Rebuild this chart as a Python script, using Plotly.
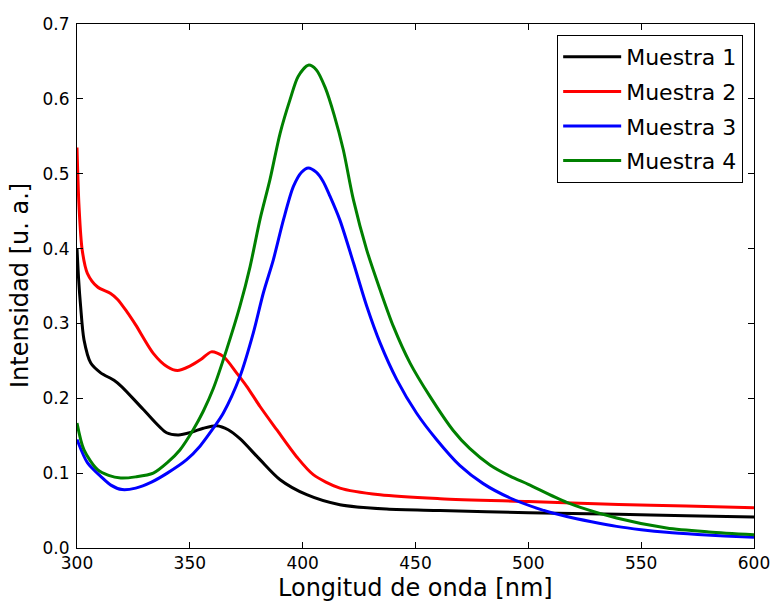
import plotly.graph_objects as go

# Muestra 1 (black)
x1 = [300, 300.7, 301.6, 303.1, 306.1, 310.5, 316.4, 320, 329.4, 339.7, 345, 351, 356, 361.9, 367, 372.2, 381.1, 390, 401.8, 416.5, 437.2, 460.9, 500, 540, 570, 600]
y1 = [0.40, 0.36, 0.323, 0.278, 0.247, 0.234, 0.224, 0.215, 0.185, 0.154, 0.151, 0.155, 0.160, 0.1634, 0.158, 0.146, 0.118, 0.0912, 0.0712, 0.0578, 0.052, 0.050, 0.047, 0.045, 0.043, 0.0414]

# Muestra 2 (red)
x2 = [300, 300.9, 302.3, 304.6, 309, 314.9, 318, 322, 326, 333.8, 340, 344.5, 350, 355, 359.5, 364.8, 370.7, 375.2, 381.1, 388.5, 397.3, 404.7, 416.5, 434.3, 460.9, 500, 540, 570, 600]
y2 = [0.535, 0.456, 0.398, 0.367, 0.349, 0.340, 0.332, 0.316, 0.298, 0.260, 0.242, 0.237, 0.243, 0.252, 0.262, 0.256, 0.234, 0.216, 0.189, 0.158, 0.122, 0.098, 0.080, 0.071, 0.0659, 0.062, 0.058, 0.056, 0.0538]

# Muestra 3 (blue)
x3 = [300, 304.6, 310.5, 315, 320, 326, 333, 340, 348.6, 354.5, 360.4, 364.8, 372.2, 378.1, 382.6, 387, 391.5, 395.9, 399.5, 402.5, 406, 409, 412.1, 416.5, 422.5, 428.4, 434.3, 441.7, 450.5, 459.3, 469.7, 480, 491.9, 505, 517, 528, 539.1, 550, 561.3, 575, 587, 600]
y3 = [0.145, 0.114, 0.0957, 0.084, 0.078, 0.080, 0.088, 0.100, 0.118, 0.136, 0.160, 0.180, 0.229, 0.287, 0.341, 0.385, 0.4386, 0.483, 0.502, 0.5076, 0.502, 0.490, 0.470, 0.438, 0.381, 0.323, 0.274, 0.225, 0.180, 0.145, 0.110, 0.086, 0.0668, 0.052, 0.042, 0.035, 0.0289, 0.0245, 0.0209, 0.018, 0.016, 0.0142]

# Muestra 4 (green)
x4 = [300, 303.1, 309, 314, 319.4, 326, 333.8, 340, 345.6, 351.5, 356, 360.4, 366.3, 372.2, 376.7, 381.1, 385.5, 390, 394.4, 398, 402.5, 406, 410, 414, 418, 422.5, 428.4, 434.3, 440.2, 447.6, 456.4, 466.7, 474, 483, 491.9, 500, 517, 539.1, 561.3, 580, 600]
y4 = [0.167, 0.131, 0.105, 0.097, 0.0935, 0.095, 0.100, 0.114, 0.131, 0.158, 0.183, 0.213, 0.265, 0.323, 0.376, 0.439, 0.492, 0.554, 0.599, 0.630, 0.645, 0.639, 0.615, 0.578, 0.532, 0.465, 0.398, 0.345, 0.296, 0.247, 0.2025, 0.157, 0.133, 0.111, 0.096, 0.085, 0.061, 0.040, 0.0267, 0.0215, 0.0178]

names = ["Muestra 1", "Muestra 2", "Muestra 3", "Muestra 4"]
colors = ["black", "red", "blue", "green"]
x_ticks = [300, 350, 400, 450, 500, 550, 600]
y_ticks = [0.0, 0.1, 0.2, 0.3, 0.4, 0.5, 0.6, 0.7]

fig = go.Figure()
for xs, ys, n, c in zip([x1, x2, x3, x4], [y1, y2, y3, y4], names, colors):
    fig.add_trace(go.Scatter(x=xs, y=ys, mode="lines", name=n, legendgroup=n,
                             line=dict(color=c, width=3, shape="spline", smoothing=0.8)))

font = "DejaVu Sans, Verdana, sans-serif"
axis_common = dict(showline=True, linecolor="black", linewidth=1, mirror="ticks",
                   ticks="inside", ticklen=6, tickcolor="black", showgrid=False,
                   zeroline=False, automargin=False)
fig.update_layout(
    width=771, height=601,
    margin=dict(l=77, r=17, t=24, b=53),
    paper_bgcolor="white", plot_bgcolor="white",
    font=dict(family=font, size=17, color="black"),
    showlegend=True,
    legend=dict(x=0.984, y=0.979, xanchor="right", yanchor="top",
                bordercolor="black", borderwidth=1, bgcolor="white",
                font=dict(size=22), itemwidth=58, tracegroupgap=3),
    xaxis=dict(range=[300, 600], tickvals=x_ticks, **axis_common),
    yaxis=dict(range=[0, 0.7], tickvals=y_ticks, tickformat=".1f",
               ticklabelstandoff=3, **axis_common),
    annotations=[
        dict(text="Longitud de onda [nm]", xref="paper", yref="paper", x=0.5, y=0,
             xanchor="center", yanchor="middle", yshift=-40, showarrow=False,
             font=dict(size=24)),
        dict(text="Intensidad [u. a.]", xref="paper", yref="paper", x=0, y=0.5,
             xanchor="center", yanchor="middle", xshift=-57, textangle=-90,
             showarrow=False, font=dict(size=24)),
    ],
)
fig.write_html(
    "out.html",
    config={"displayModeBar": False},
    post_script="document.body.style.margin='0';document.body.style.overflow='hidden';",
)
